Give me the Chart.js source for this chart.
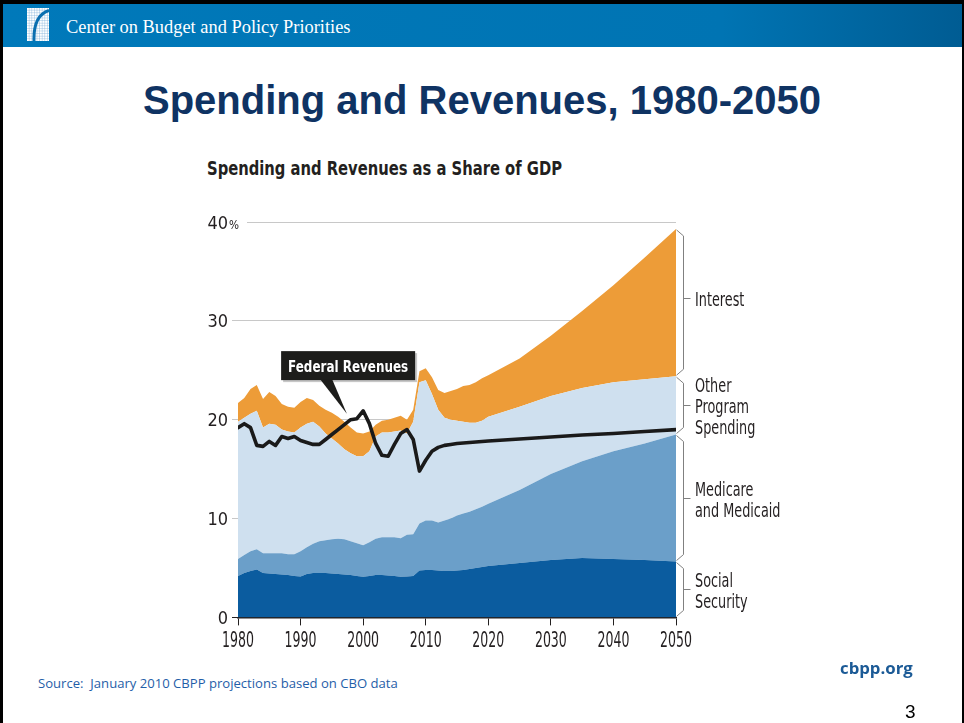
<!DOCTYPE html>
<html>
<head>
<meta charset="utf-8">
<script src="https://cdn.jsdelivr.net/npm/chart.js@4.4.0/dist/chart.umd.min.js"></script>
<style>
html,body{margin:0;padding:0;background:#fff;}
#slide{position:relative;width:964px;height:723px;overflow:hidden;background:#fff;}
.abs{position:absolute;white-space:nowrap;}
#frameTop{left:0;top:0;width:964px;height:4px;background:#000;}
#frameL{left:0;top:0;width:3px;height:723px;background:#000;}
#frameR{right:0;top:0;width:2px;height:723px;background:#000;}
#header{left:3px;top:4px;width:959px;height:43px;background:linear-gradient(to right,#0079ba 0%,#0074b3 75%,#005c93 100%);}
#logo{left:27px;top:8px;}
#org{left:66px;top:18px;font:18.4px/1 'Liberation Serif','Times New Roman',serif;color:#fff;}
#title{left:0;width:964px;top:80px;text-align:center;font:bold 40px/40px 'Liberation Sans',Arial,sans-serif;color:#0f3363;}
#subtitle{left:207px;top:158px;font:bold 20px/20px 'DejaVu Sans Condensed','DejaVu Sans',sans-serif;color:#231f20;transform:scaleX(0.82);transform-origin:0 0;}
#chartBox{left:0;top:200px;width:964px;height:460px;}
#source{left:38px;top:677px;font:13.1px/1 'Open Sans',sans-serif;color:#1f5ea8;}
#site{left:840px;top:660px;font:bold 16.8px/1 'Open Sans',sans-serif;color:#1b5a96;}
#page{left:905px;top:702px;font:19px/1 'Liberation Sans',Arial,sans-serif;color:#000;}
</style>
</head>
<body>
<div id="slide">
  <div class="abs" id="header"></div>
  <div class="abs" id="frameTop"></div>
  <div class="abs" id="frameL"></div>
  <div class="abs" id="frameR"></div>
  <svg class="abs" id="logo" width="22" height="33" viewBox="0 0 22 33">
    <defs>
      <pattern id="grid" width="2.6" height="2.6" patternUnits="userSpaceOnUse">
        <rect width="2.6" height="2.6" fill="#ffffff"/>
        <path d="M2.6 0 V2.6 M0 2.6 H2.6" stroke="#5e9cd0" stroke-width="0.6"/>
      </pattern>
    </defs>
    <rect x="0" y="0" width="22" height="33" fill="url(#grid)"/>
    <path d="M7 33 C6.5 17 11 6 22 2.5" stroke="#0a6fb0" stroke-width="3" fill="none"/>
  </svg>
  <div class="abs" id="org">Center on Budget and Policy Priorities</div>
  <div class="abs" id="title">Spending and Revenues, 1980-2050</div>
  <div class="abs" id="subtitle">Spending and Revenues as a Share of GDP</div>
  <div class="abs" id="chartBox"><canvas id="c" width="964" height="460"></canvas></div>
  <div class="abs" id="source">Source:&nbsp; January 2010 CBPP projections based on CBO data</div>
  <div class="abs" id="site">cbpp.org</div>
  <div class="abs" id="page">3</div>
</div>
<script>
// ---- Data (percent of GDP, cumulative stack tops) ----
const years = [1980,1981,1982,1983,1984,1985,1986,1987,1988,1989,
               1990,1991,1992,1993,1994,1995,1996,1997,1998,1999,
               2000,2001,2002,2003,2004,2005,2006,2007,2008,2009,
               2010,2011,2012,2013,2014,2015,2016,2017,2018,2019,
               2020,2025,2030,2035,2040,2045,2050];
// Social Security (top of bottom layer)
const socialSecurityTop = [4.2,4.5,4.7,4.85,4.5,4.45,4.4,4.35,4.3,4.2,
                           4.15,4.4,4.5,4.5,4.5,4.45,4.4,4.35,4.3,4.2,
                           4.1,4.2,4.3,4.3,4.25,4.2,4.1,4.15,4.2,4.75,
                           4.8,4.8,4.75,4.7,4.7,4.75,4.8,4.9,5.0,5.1,
                           5.2,5.5,5.8,6.0,5.9,5.8,5.65];
// Social Security + Medicare and Medicaid
const healthTop = [5.9,6.3,6.7,6.9,6.5,6.5,6.5,6.5,6.4,6.4,
                   6.7,7.1,7.45,7.7,7.8,7.9,7.95,7.9,7.7,7.5,
                   7.3,7.6,7.95,8.1,8.1,8.1,8.0,8.35,8.4,9.5,
                   9.8,9.8,9.6,9.8,10.0,10.3,10.5,10.7,10.95,11.2,
                   11.5,12.9,14.5,15.8,16.8,17.6,18.5];
// + Other Program Spending (non-interest spending)
const nonInterestTop = [19.8,20.2,20.6,20.9,19.2,19.6,19.5,19.0,18.8,18.7,
                        19.2,19.6,19.8,19.3,18.6,18.1,17.6,17.0,16.6,16.3,
                        16.3,16.8,18.3,18.7,18.7,18.8,18.9,18.6,19.8,23.8,
                        24.0,22.6,21.0,20.2,20.0,19.9,19.8,19.7,19.7,19.9,
                        20.3,21.3,22.4,23.2,23.8,24.1,24.4];
// + Interest (total spending)
const totalSpending = [21.7,22.2,23.1,23.5,22.1,22.8,22.4,21.6,21.3,21.2,
                       21.8,22.2,22.0,21.4,21.0,20.7,20.3,19.8,19.2,18.7,
                       18.6,18.8,19.5,19.9,20.0,20.2,20.4,20.0,21.0,24.9,
                       25.2,24.3,23.0,22.7,22.9,23.1,23.4,23.5,23.8,24.2,
                       24.5,26.2,28.5,31.0,33.6,36.4,39.3];
// Federal revenues
const revenues = [19.2,19.6,19.2,17.4,17.3,17.8,17.4,18.3,18.1,18.3,
                  17.9,17.7,17.5,17.5,18.0,18.5,19.0,19.5,20.0,20.1,
                  20.9,19.6,17.6,16.4,16.3,17.5,18.6,19.0,18.0,14.8,
                  15.9,16.8,17.2,17.4,17.5,17.6,17.65,17.7,17.75,17.8,
                  17.85,18.05,18.25,18.45,18.6,18.8,19.0];
const xTicks = [1980,1990,2000,2010,2020,2030,2040,2050];
const yTicks = [0,10,20,30,40];
const braceLabels = [["Interest"],["Other","Program","Spending"],["Medicare","and Medicaid"],["Social","Security"]];
const calloutText = "Federal Revenues";

// ---- Styling ----
const COND = "'DejaVu Sans Condensed','DejaVu Sans',sans-serif";
const INK = '#231f20';
const GRID = '#c8c8c8';
const pts = arr => years.map((yr, i) => ({x: yr, y: arr[i]}));
const area = (label, arr, fill, color) => ({label, data: pts(arr), fill, backgroundColor: color,
  borderWidth: 0, pointRadius: 0, tension: 0, order: 1});

function squeezeText(ctx, text, x, y, sx, align) {
  const w = ctx.measureText(text).width * sx;
  let left = x;
  if (align === 'center') left = x - w / 2;
  else if (align === 'right') left = x - w;
  ctx.save();
  ctx.translate(left, y);
  ctx.scale(sx, 1);
  ctx.textAlign = 'left';
  ctx.fillText(text, 0, 0);
  ctx.restore();
  return w;
}

const overlay = {
  id: 'overlay',
  beforeDatasetsDraw(chart) {
    const {ctx, chartArea: ca, scales: {y}} = chart;
    // top gridline (starts right of the "%" sign)
    const y40 = Math.round(y.getPixelForValue(yTicks[yTicks.length - 1])) + 0.5;
    ctx.save();
    ctx.strokeStyle = GRID; ctx.lineWidth = 1;
    ctx.beginPath(); ctx.moveTo(ca.left + 9, y40); ctx.lineTo(ca.right, y40); ctx.stroke();
    ctx.restore();
  },
  afterDatasetsDraw(chart) {
    const {ctx, chartArea: ca, scales: {x, y}} = chart;
    const last = years.length - 1;
    const levels = [totalSpending[last], nonInterestTop[last], healthTop[last], socialSecurityTop[last], 0];
    const tickShift = [-5, 0, 0, 0];
    ctx.save();
    // x tick labels
    ctx.fillStyle = INK; ctx.font = '20.5px ' + COND; ctx.textBaseline = 'alphabetic';
    xTicks.forEach(v => squeezeText(ctx, String(v), x.getPixelForValue(v), ca.bottom + 30, 0.68, 'center'));
    // y tick labels
    ctx.font = '18px ' + COND;
    yTicks.forEach(v => {
      const py = y.getPixelForValue(v) + 6.5;
      squeezeText(ctx, String(v), ca.left - 10, py, 1, 'right');
      if (v === yTicks[yTicks.length - 1]) {
        ctx.font = '13px ' + COND;
        squeezeText(ctx, '%', ca.left - 9, py, 0.9, 'left');
        ctx.font = '18px ' + COND;
      }
    });
    // braces + labels
    for (let i = 0; i < 4; i++) {
      const y0 = y.getPixelForValue(levels[i]), y1 = y.getPixelForValue(levels[i + 1]);
      const x0 = ca.right + 0.5, x1 = ca.right + 7.5;
      const mid = Math.round((y0 + y1) / 2 + tickShift[i]) + 0.5;
      ctx.strokeStyle = '#808080'; ctx.lineWidth = 1;
      ctx.beginPath();
      ctx.moveTo(x0, y0 + 1); ctx.lineTo(x1, y0 + 7); ctx.lineTo(x1, y1 - 7); ctx.lineTo(x0, y1 - 1);
      ctx.moveTo(x1, mid); ctx.lineTo(x1 + 7, mid);
      ctx.stroke();
      ctx.fillStyle = INK; ctx.font = '19px ' + COND; ctx.textBaseline = 'alphabetic';
      const lines = braceLabels[i], lh = 21;
      lines.forEach((t, j) => squeezeText(ctx, t, ca.right + 19, mid + 7.5 + (j - (lines.length - 1) / 2) * lh, 0.75, 'left'));
    }
    // callout
    ctx.font = 'bold 16px ' + COND;
    const sx = 0.83;
    const tw = ctx.measureText(calloutText).width * sx;
    const cx = x.getPixelForValue(1997.6), cy = y.getPixelForValue(25.47);
    const bw = tw + 14, bh = 29, bx = cx - bw / 2, by = cy - bh / 2;
    const tipX = x.getPixelForValue(1997.4), tipY = y.getPixelForValue(20.6);
    ctx.fillStyle = 'rgba(0,0,0,0.22)';
    ctx.fillRect(bx + 2, by + 2, bw, bh);
    ctx.fillStyle = '#1d1d1b';
    ctx.fillRect(bx, by, bw, bh);
    ctx.beginPath();
    ctx.moveTo(cx - 28, by + bh - 1); ctx.lineTo(cx - 16, by + bh - 1); ctx.lineTo(tipX, tipY); ctx.closePath();
    ctx.fill();
    ctx.fillStyle = '#ffffff'; ctx.textBaseline = 'alphabetic';
    squeezeText(ctx, calloutText, cx, cy + 6, sx, 'center');
    ctx.restore();
  }
};

new Chart(document.getElementById('c'), {
  type: 'line',
  data: {
    datasets: [
      area('Social Security', socialSecurityTop, 'origin', '#0b5c9f'),
      area('Medicare and Medicaid', healthTop, '-1', '#6b9fc9'),
      area('Other Program Spending', nonInterestTop, '-1', '#cfe0ef'),
      area('Interest', totalSpending, '-1', '#ed9c38'),
      {label: 'Federal Revenues', data: pts(revenues), fill: false, borderColor: '#1a1a1a', borderWidth: 3.6,
       pointRadius: 0, tension: 0, borderJoinStyle: 'round', borderCapStyle: 'round', order: 0}
    ]
  },
  options: {
    responsive: false, animation: false,
    layout: {padding: {left: 150, right: 288, top: 22, bottom: 0}},
    plugins: {legend: {display: false}, tooltip: {enabled: false}},
    scales: {
      x: {
        type: 'linear', min: 1980, max: 2050,
        afterBuildTicks: s => { s.ticks = xTicks.map(v => ({value: v})); },
        afterFit: s => { s.height = 42.6; },
        ticks: {display: false},
        grid: {drawOnChartArea: false, drawTicks: true, tickLength: 8, color: INK},
        border: {color: INK, width: 1.5}
      },
      y: {
        min: 0, max: 40,
        afterBuildTicks: s => { s.ticks = yTicks.map(v => ({value: v})); },
        afterFit: s => { s.width = 88; },
        ticks: {display: false},
        grid: {
          color: c => c.tick && c.tick.value === 40 ? 'rgba(0,0,0,0)' : GRID,
          tickColor: c => c.tick && c.tick.value === 40 ? 'rgba(0,0,0,0)' : (c.tick && c.tick.value === 0 ? INK : GRID),
          tickLength: 6, drawTicks: true
        },
        border: {display: false}
      }
    }
  },
  plugins: [overlay]
});
</script>
</body>
</html>
